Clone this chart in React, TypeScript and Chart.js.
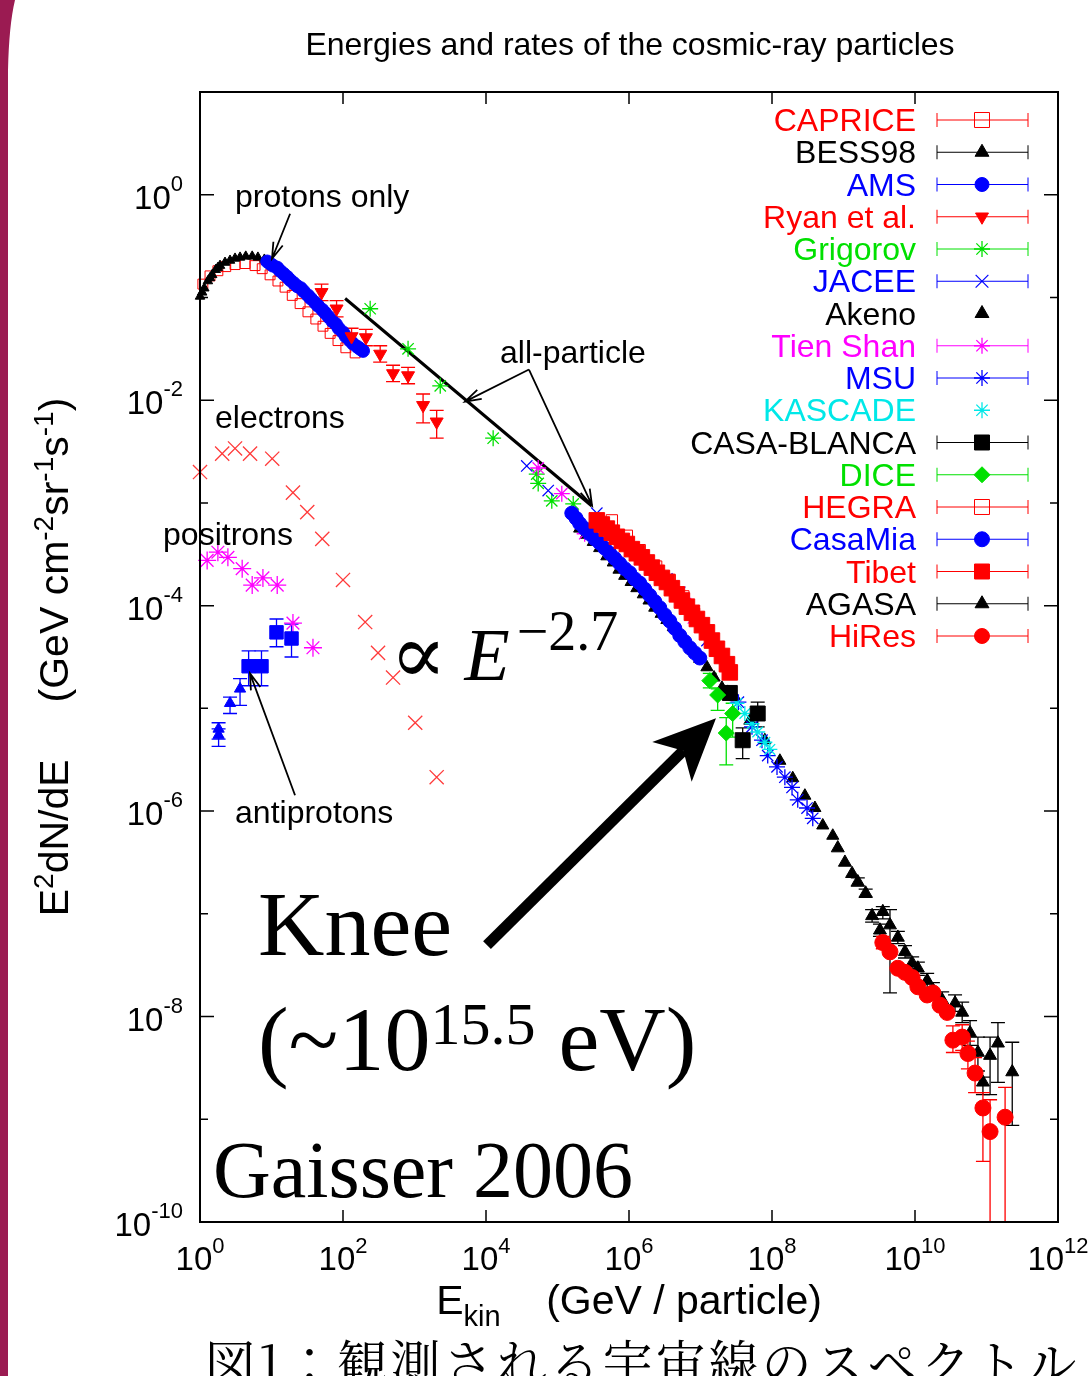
import React, { useEffect, useRef } from 'react';
import { Chart, registerables } from 'chart.js';
import { drawPoint } from 'chart.js/helpers';

Chart.register(...registerables);

// Each point: [log10 E_kin (GeV), log10 E^2dN/dE, (log10 lower), (log10 upper)]
const caprice = [[0.04,-0.87],[0.14,-0.79],[0.25,-0.74],[0.36,-0.70],[0.49,-0.68],[0.63,-0.67],[0.77,-0.69],[0.87,-0.72],[0.98,-0.78],[1.09,-0.84],[1.19,-0.90],[1.29,-0.98],[1.40,-1.06],[1.51,-1.14],[1.62,-1.21],[1.72,-1.28],[1.82,-1.35],[1.93,-1.42],[2.04,-1.49],[2.17,-1.54]];
const bess98 = [[0.00,-0.99],[0.03,-0.95],[0.06,-0.91],[0.11,-0.84],[0.14,-0.81],[0.17,-0.78],[0.22,-0.73],[0.25,-0.71],[0.28,-0.69],[0.35,-0.66],[0.42,-0.64],[0.49,-0.62],[0.56,-0.61],[0.64,-0.60],[0.73,-0.60],[0.81,-0.61],[0.90,-0.63],[0.95,-0.65]];
const ams = [[0.94,-0.65],[0.98,-0.67],[1.02,-0.69],[1.08,-0.71],[1.12,-0.74],[1.17,-0.77],[1.22,-0.80],[1.26,-0.83],[1.31,-0.86],[1.36,-0.89],[1.41,-0.91],[1.45,-0.94],[1.51,-0.98],[1.55,-1.01],[1.61,-1.05],[1.65,-1.08],[1.71,-1.12],[1.75,-1.15],[1.80,-1.19],[1.85,-1.23],[1.90,-1.26],[1.94,-1.30],[2.00,-1.34],[2.04,-1.38],[2.10,-1.42],[2.14,-1.45],[2.20,-1.48],[2.24,-1.50],[2.28,-1.52]];
const ryan = [[1.70,-0.95,-1.03,-0.87],[1.91,-1.11,-1.19,-1.03],[2.12,-1.38,-1.46,-1.30],[2.32,-1.39,-1.47,-1.31],[2.52,-1.55,-1.63,-1.47],[2.70,-1.74,-1.82,-1.66],[2.91,-1.76,-1.84,-1.68],[3.12,-2.05,-2.22,-1.94],[3.31,-2.21,-2.37,-2.10]];
const grigorov = [[2.38,-1.11],[2.91,-1.50],[3.36,-1.86],[4.10,-2.37],[4.71,-2.72],[4.73,-2.81],[4.92,-2.98],[5.22,-3.01]];
const jacee = [[4.57,-2.64],[4.87,-2.88],[5.55,-3.10],[6.53,-3.74],[6.71,-3.87],[6.90,-4.05],[7.09,-4.34]];
const akeno = [[5.31,-3.25],[5.40,-3.31],[5.50,-3.38],[5.59,-3.44],[5.69,-3.52],[5.78,-3.58],[5.86,-3.65],[5.94,-3.71],[6.03,-3.77],[6.11,-3.83],[6.20,-3.89],[6.28,-3.95],[6.36,-4.02],[6.45,-4.08],[6.53,-4.14],[6.62,-4.21],[6.71,-4.28],[6.80,-4.36],[6.90,-4.44],[6.99,-4.52],[7.09,-4.60],[7.19,-4.70],[7.30,-4.80],[7.38,-4.84],[7.48,-4.89],[7.69,-5.12],[7.90,-5.31],[8.11,-5.51],[8.29,-5.68],[8.46,-5.85],[8.60,-5.97],[8.71,-6.14],[8.85,-6.24]];
const tienShan = [[4.73,-2.66],[5.06,-2.91],[5.38,-3.30],[6.76,-3.93],[6.90,-4.12]];
const msu = [[7.53,-4.94],[7.72,-5.18],[7.86,-5.31],[7.94,-5.46],[8.07,-5.57],[8.18,-5.67],[8.28,-5.77],[8.36,-5.89],[8.49,-5.97],[8.57,-6.07]];
const kascade = [[7.51,-4.95],[7.62,-5.05],[7.72,-5.15],[7.80,-5.23],[7.90,-5.33],[7.97,-5.40]];
const casaBlanca = [[7.41,-4.85,-4.88,-4.82],[7.59,-5.31,-5.49,-5.19],[7.80,-5.05,-5.18,-4.94]];
const dice = [[7.13,-4.73,-4.80,-4.66],[7.24,-4.87,-5.02,-4.81],[7.45,-5.05,-5.28,-4.95],[7.36,-5.24,-5.55,-5.09]];
const hegra = [[5.76,-3.17],[5.97,-3.32],[6.15,-3.46],[6.38,-3.62],[6.57,-3.75],[6.76,-3.91],[6.91,-4.08]];
const casaMia = [[5.20,-3.10],[5.26,-3.15],[5.31,-3.20],[5.38,-3.25],[5.45,-3.30],[5.52,-3.35],[5.59,-3.39],[5.66,-3.44],[5.73,-3.49],[5.80,-3.54],[5.87,-3.59],[5.94,-3.64],[6.01,-3.68],[6.08,-3.74],[6.15,-3.78],[6.22,-3.84],[6.29,-3.90],[6.36,-3.96],[6.43,-4.02],[6.50,-4.09],[6.57,-4.15],[6.64,-4.22],[6.71,-4.29],[6.78,-4.35],[6.85,-4.41],[6.92,-4.46],[6.99,-4.51]];
const tibet = [[5.55,-3.17],[5.62,-3.21],[5.69,-3.25],[5.76,-3.29],[5.83,-3.33],[5.90,-3.37],[5.97,-3.40],[6.04,-3.45],[6.11,-3.49],[6.18,-3.53],[6.25,-3.58],[6.32,-3.63],[6.39,-3.68],[6.46,-3.73],[6.53,-3.77],[6.60,-3.83],[6.67,-3.89],[6.74,-3.95],[6.81,-4.01],[6.88,-4.07],[6.95,-4.13],[7.02,-4.19],[7.09,-4.26],[7.16,-4.34],[7.23,-4.42],[7.30,-4.49],[7.37,-4.57],[7.41,-4.65]];
const agasa = [[8.92,-6.36],[9.02,-6.50],[9.12,-6.61],[9.20,-6.69,-6.73,-6.65],[9.31,-6.80,-6.84,-6.76],[9.40,-7.02,-7.08,-6.96],[9.51,-7.16,-7.22,-7.10],[9.55,-6.98,-7.05,-6.93],[9.65,-7.11,-7.77,-6.96],[9.76,-7.23,-7.29,-7.17],[9.86,-7.37,-7.43,-7.31],[9.96,-7.48,-7.54,-7.42],[10.04,-7.53,-7.60,-7.47],[10.17,-7.65,-7.72,-7.58],[10.25,-7.74,-7.81,-7.67],[10.38,-7.84,-7.92,-7.76],[10.56,-7.87,-7.95,-7.79],[10.66,-7.96,-8.06,-7.86],[10.77,-8.16,-8.28,-8.04],[10.88,-8.35,-8.53,-8.20],[10.95,-8.64,-8.76,-8.59],[11.05,-8.38,-8.76,-8.20],[11.16,-8.26,-8.64,-8.06],[11.36,-8.54,-9.06,-8.25]];
const hiRes = [[9.55,-7.28,-7.34,-7.22],[9.65,-7.37],[9.76,-7.53],[9.86,-7.57],[9.96,-7.62],[10.04,-7.71],[10.17,-7.79],[10.25,-7.77],[10.35,-7.89],[10.45,-7.96],[10.53,-8.23,-8.35,-8.09],[10.66,-8.20,-8.33,-8.08],[10.74,-8.36,-8.51,-8.24],[10.84,-8.55,-8.74,-8.40],[10.95,-8.89,-9.41,-8.74],[11.05,-9.12,-11.0,-8.81],[11.26,-8.98,-11.0,-8.69]];
const electrons = [[0.00,-2.70],[0.31,-2.52],[0.49,-2.47],[0.70,-2.52],[1.01,-2.57],[1.30,-2.90],[1.50,-3.09],[1.71,-3.35],[2.00,-3.75],[2.31,-4.16],[2.49,-4.46],[2.70,-4.70],[3.01,-5.14],[3.31,-5.67]];
const positrons = [[0.10,-3.56],[0.25,-3.48],[0.39,-3.53],[0.59,-3.64],[0.73,-3.80],[0.88,-3.73],[1.08,-3.80],[1.30,-4.17],[1.58,-4.41]];
const antiprotonsLow = [[0.26,-5.20,-5.30,-5.14],[0.26,-5.26,-5.37,-5.20],[0.42,-4.95,-5.05,-4.89],[0.56,-4.81,-4.97,-4.71]];
const antiprotonsHigh = [[0.68,-4.59,-4.78,-4.44],[0.86,-4.59,-4.78,-4.44],[1.07,-4.26,-4.40,-4.13],[1.28,-4.32,-4.50,-4.18]];
const allParticle = [[2.03,-1.01],[5.48,-3.03]];

const xLabelDecades = [0, 2, 4, 6, 8, 10, 12];
const yLabelDecades = [0, -2, -4, -6, -8, -10];
const yTickDecades = [0, -1, -2, -3, -4, -5, -6, -7, -8, -9];

const RED = '#ff0000';
const BLACK = '#000000';
const BLUE = '#0000ff';
const GREEN = '#00e000';
const MAGENTA = '#ff00ff';
const CYAN = '#00e8e8';

type Series = {
  label: string; data: number[][]; color: string; style: string; r: number; lr: number;
  fill: boolean; rot?: number; bw?: number; legend: boolean; line: boolean;
};

const series: Series[] = [
  { label: 'CAPRICE', data: caprice, color: RED, style: 'rect', r: 7, lr: 10.6, fill: false, bw: 1, legend: true, line: true },
  { label: 'BESS98', data: bess98, color: BLACK, style: 'triangle', r: 5.5, lr: 8, fill: true, legend: true, line: true },
  { label: 'AMS', data: ams, color: BLUE, style: 'circle', r: 6.5, lr: 7, fill: true, legend: true, line: true },
  { label: 'Ryan et al.', data: ryan, color: RED, style: 'triangle', rot: 180, r: 7.5, lr: 7.5, fill: true, legend: true, line: true },
  { label: 'Grigorov', data: grigorov, color: GREEN, style: 'star', r: 8, lr: 8, fill: false, bw: 1.3, legend: true, line: true },
  { label: 'JACEE', data: jacee, color: BLUE, style: 'crossRot', r: 8, lr: 9, fill: false, bw: 1.2, legend: true, line: true },
  { label: 'Akeno', data: akeno, color: BLACK, style: 'triangle', r: 7, lr: 8, fill: true, legend: true, line: false },
  { label: 'Tien Shan', data: tienShan, color: MAGENTA, style: 'star', r: 8, lr: 8, fill: false, bw: 1.3, legend: true, line: true },
  { label: 'MSU', data: msu, color: BLUE, style: 'star', r: 8, lr: 8, fill: false, bw: 1.3, legend: true, line: true },
  { label: 'KASCADE', data: kascade, color: CYAN, style: 'star', r: 7.5, lr: 8, fill: false, bw: 1.3, legend: true, line: false },
  { label: 'CASA-BLANCA', data: casaBlanca, color: BLACK, style: 'rect', r: 10.6, lr: 10.6, fill: true, legend: true, line: true },
  { label: 'DICE', data: dice, color: GREEN, style: 'rectRot', r: 8, lr: 8, fill: true, legend: true, line: true },
  { label: 'HEGRA', data: hegra, color: RED, style: 'rect', r: 8, lr: 10.6, fill: false, bw: 1, legend: true, line: true },
  { label: 'CasaMia', data: casaMia, color: BLUE, style: 'circle', r: 7, lr: 7.5, fill: true, legend: true, line: true },
  { label: 'Tibet', data: tibet, color: RED, style: 'rect', r: 11, lr: 10.6, fill: true, legend: true, line: true },
  { label: 'AGASA', data: agasa, color: BLACK, style: 'triangle', r: 7.5, lr: 8, fill: true, legend: true, line: true },
  { label: 'HiRes', data: hiRes, color: RED, style: 'circle', r: 8, lr: 7.5, fill: true, legend: true, line: true },
  { label: 'electrons', data: electrons, color: '#ff3a3a', style: 'crossRot', r: 10, lr: 10, fill: false, bw: 1.3, legend: false, line: false },
  { label: 'positrons', data: positrons, color: MAGENTA, style: 'star', r: 9, lr: 9, fill: false, bw: 1.3, legend: false, line: false },
  { label: 'antiprotons (low)', data: antiprotonsLow, color: BLUE, style: 'triangle', r: 6.5, lr: 6.5, fill: true, legend: false, line: false },
  { label: 'antiprotons (high)', data: antiprotonsHigh, color: BLUE, style: 'rect', r: 9.5, lr: 9.5, fill: true, legend: false, line: false },
];

const SANS = '"Liberation Sans", Arial, Helvetica, sans-serif';
const SERIF = '"Liberation Serif", "Times New Roman", "DejaVu Serif", serif';

// annotation anchors in log10 data coordinates
const labels = [
  { text: 'protons only', lx: 0.49, ly: -0.117 },
  { text: 'electrons', lx: 0.21, ly: -2.267 },
  { text: 'positrons', lx: -0.517, ly: -3.414 },
  { text: 'antiprotons', lx: 0.49, ly: -6.119 },
  { text: 'all-particle', lx: 4.196, ly: -1.634 },
];
const thinArrows = [
  { from: [1.26, -0.185], to: [1.007, -0.623] },
  { from: [4.601, -1.702], to: [3.706, -2.014] },
  { from: [4.601, -1.702], to: [5.483, -3.025] },
  { from: [1.329, -5.846], to: [0.699, -4.66] },
];
const kneeArrow = { from: [4.014, -7.305], to: [7.217, -5.097] };

type Run = { t: string; font: string; dy?: number };
function runsWidth(ctx: CanvasRenderingContext2D, runs: Run[]) {
  let w = 0;
  for (const r of runs) { ctx.font = r.font; w += ctx.measureText(r.t).width; }
  return w;
}
function drawRuns(ctx: CanvasRenderingContext2D, runs: Run[], x: number, y: number) {
  let cx = x;
  for (const r of runs) {
    ctx.font = r.font;
    ctx.fillText(r.t, cx, y + (r.dy || 0));
    cx += ctx.measureText(r.t).width;
  }
  return cx;
}

const errorBars = {
  id: 'errorBars',
  beforeDatasetsDraw(chart: any) {
    const { ctx, chartArea: a, scales } = chart;
    const xs = scales.x, ys = scales.y;
    ctx.save();
    ctx.beginPath();
    ctx.rect(a.left, a.top, a.right - a.left, a.bottom - a.top);
    ctx.clip();
    chart.data.datasets.forEach((ds: any) => {
      if (!ds.errColor) return;
      ctx.strokeStyle = ds.errColor;
      ctx.lineWidth = 1.3;
      ds.data.forEach((p: any) => {
        if (p.lo == null || p.hi == null) return;
        const px = xs.getPixelForValue(p.x);
        const y1 = ys.getPixelForValue(p.lo);
        const y2 = ys.getPixelForValue(p.hi);
        const c = 7;
        ctx.beginPath();
        ctx.moveTo(px, y1); ctx.lineTo(px, y2);
        ctx.moveTo(px - c, y1); ctx.lineTo(px + c, y1);
        ctx.moveTo(px - c, y2); ctx.lineTo(px + c, y2);
        ctx.stroke();
      });
    });
    ctx.restore();
  },
};

const decorations = {
  id: 'decorations',
  afterDraw(chart: any) {
    const { ctx, chartArea: a, scales } = chart;
    const xs = scales.x, ys = scales.y;
    const X = (l: number) => xs.getPixelForValue(Math.pow(10, l));
    const Y = (l: number) => ys.getPixelForValue(Math.pow(10, l));
    ctx.save();
    ctx.fillStyle = '#000';
    ctx.strokeStyle = '#000';
    ctx.textBaseline = 'alphabetic';
    ctx.textAlign = 'left';

    // frame
    ctx.lineWidth = 2;
    ctx.strokeRect(a.left, a.top, a.right - a.left, a.bottom - a.top);
    // ticks
    ctx.lineWidth = 1.5;
    ctx.beginPath();
    yTickDecades.forEach((d) => {
      const y = Y(d);
      const len = d % 2 === 0 ? 14 : 8;
      ctx.moveTo(a.left, y); ctx.lineTo(a.left + len, y);
      ctx.moveTo(a.right, y); ctx.lineTo(a.right - len, y);
    });
    xLabelDecades.forEach((d) => {
      const x = X(d);
      ctx.moveTo(x, a.bottom); ctx.lineTo(x, a.bottom - 12);
      ctx.moveTo(x, a.top); ctx.lineTo(x, a.top + 12);
    });
    ctx.stroke();

    // tick labels
    const big = `33px ${SANS}`;
    const small = `22px ${SANS}`;
    yLabelDecades.forEach((d) => {
      const runs: Run[] = [{ t: '10', font: big }, { t: String(d), font: small, dy: -18 }];
      const w = runsWidth(ctx, runs);
      drawRuns(ctx, runs, a.left - 17 - w, Y(d) + 14);
    });
    xLabelDecades.forEach((d) => {
      const runs: Run[] = [{ t: '10', font: big }, { t: String(d), font: small, dy: -17 }];
      const w = runsWidth(ctx, runs);
      drawRuns(ctx, runs, X(d) - w / 2, a.bottom + 48);
    });

    // title
    ctx.font = `32px ${SANS}`;
    ctx.textAlign = 'center';
    ctx.fillText('Energies and rates of the cosmic-ray particles', (a.left + a.right) / 2 + 1, 55);
    ctx.textAlign = 'left';

    // x axis title
    const f41 = `41px ${SANS}`;
    const xt: Run[] = [
      { t: 'E', font: f41 }, { t: 'kin', font: `29px ${SANS}`, dy: 12 },
      { t: '    (GeV / particle)', font: f41 },
    ];
    const xw = runsWidth(ctx, xt);
    drawRuns(ctx, xt, (a.left + a.right) / 2 - xw / 2, a.bottom + 92);

    // y axis title
    const sup = `28px ${SANS}`;
    const yt: Run[] = [
      { t: 'E', font: f41 }, { t: '2', font: sup, dy: -15 }, { t: 'dN/dE', font: f41 },
      { t: '     (GeV cm', font: f41 }, { t: '-2', font: sup, dy: -15 }, { t: 'sr', font: f41 },
      { t: '-1', font: sup, dy: -15 }, { t: 's', font: f41 }, { t: '-1', font: sup, dy: -15 },
      { t: ')', font: f41 },
    ];
    const yw = runsWidth(ctx, yt);
    ctx.save();
    ctx.translate(68, 657);
    ctx.rotate(-Math.PI / 2);
    drawRuns(ctx, yt, -yw / 2, 0);
    ctx.restore();

    // legend
    const legendItems = chart.data.datasets.filter((d: any) => d.legendItem);
    legendItems.forEach((ds: any, i: number) => {
      const y = a.top + 28 + i * 32.25;
      ctx.font = `32px ${SANS}`;
      ctx.textAlign = 'right';
      ctx.fillStyle = ds.legendColor;
      ctx.fillText(ds.label, a.right - 142, y + 11);
      ctx.textAlign = 'left';
      const cx = a.right - 76;
      if (ds.legendLine) {
        ctx.strokeStyle = ds.legendColor;
        ctx.lineWidth = 1;
        ctx.beginPath();
        ctx.moveTo(a.right - 121, y); ctx.lineTo(a.right - 30, y);
        ctx.moveTo(a.right - 121, y - 7); ctx.lineTo(a.right - 121, y + 7);
        ctx.moveTo(a.right - 30, y - 7); ctx.lineTo(a.right - 30, y + 7);
        ctx.stroke();
      }
      ctx.fillStyle = ds.backgroundColor;
      ctx.strokeStyle = ds.borderColor;
      ctx.lineWidth = ds.pointBorderWidth;
      drawPoint(ctx, { pointStyle: ds.pointStyle, rotation: ds.pointRotation || 0, radius: ds.legendRadius, borderWidth: ds.pointBorderWidth } as any, cx, y);
    });
    ctx.fillStyle = '#000';
    ctx.strokeStyle = '#000';

    // small labels
    ctx.font = `32px ${SANS}`;
    labels.forEach((l) => ctx.fillText(l.text, X(l.lx), Y(l.ly)));

    // thin arrows
    ctx.lineWidth = 1.8;
    thinArrows.forEach((ar) => {
      const x1 = X(ar.from[0]), y1 = Y(ar.from[1]), x2 = X(ar.to[0]), y2 = Y(ar.to[1]);
      const ang = Math.atan2(y2 - y1, x2 - x1);
      const len = 17, h = 0.3;
      ctx.beginPath();
      ctx.moveTo(x1, y1); ctx.lineTo(x2, y2);
      ctx.moveTo(x2 - len * Math.cos(ang - h), y2 - len * Math.sin(ang - h));
      ctx.lineTo(x2, y2);
      ctx.lineTo(x2 - len * Math.cos(ang + h), y2 - len * Math.sin(ang + h));
      ctx.stroke();
    });

    // big knee arrow
    {
      const x1 = X(kneeArrow.from[0]), y1 = Y(kneeArrow.from[1]);
      const x2 = X(kneeArrow.to[0]), y2 = Y(kneeArrow.to[1]);
      const ang = Math.atan2(y2 - y1, x2 - x1);
      const c = Math.cos(ang), s = Math.sin(ang);
      const L = 62, W = 28, N = 46;
      ctx.lineWidth = 11;
      ctx.lineCap = 'butt';
      ctx.beginPath();
      ctx.moveTo(x1, y1); ctx.lineTo(x2 - N * c, y2 - N * s);
      ctx.stroke();
      const bx = x2 - L * c, by = y2 - L * s;
      ctx.beginPath();
      ctx.moveTo(x2, y2);
      ctx.lineTo(bx - W * s, by + W * c);
      ctx.lineTo(x2 - N * c, y2 - N * s);
      ctx.lineTo(bx + W * s, by - W * c);
      ctx.closePath();
      ctx.fill();
    }

    // big serif texts
    ctx.font = `84px ${SERIF}`;
    ctx.fillText('\u221D', X(2.657), Y(-4.75));
    ctx.font = `italic 74px ${SERIF}`;
    ctx.fillText('E', X(3.70), Y(-4.728));
    ctx.font = `56px ${SERIF}`;
    ctx.fillText('\u22122.7', X(4.43), Y(-4.436));

    ctx.font = `92px ${SERIF}`;
    ctx.fillText('Knee', X(0.811), Y(-7.403));
    const kx = X(0.811), ky = Y(-8.521);
    drawRuns(ctx, [
      { t: '(~10', font: `92px ${SERIF}` },
      { t: '15.5', font: `60px ${SERIF}`, dy: -26 },
      { t: ' eV)', font: `92px ${SERIF}` },
    ], kx, ky);
    ctx.font = `80px ${SERIF}`;
    ctx.fillText('Gaisser 2006', X(0.182), Y(-9.757));

    // caption below figure
    ctx.font = `50px "Noto Serif CJK JP", "Noto Sans CJK JP", serif`;
    (ctx as any).letterSpacing = '3px';
    ctx.fillText('図1：観測される宇宙線のスペクトル', 205, 1382);
    (ctx as any).letterSpacing = '0px';

    // slide border stripe on the left
    ctx.fillStyle = '#9b1b52';
    ctx.beginPath();
    ctx.moveTo(0, 0);
    ctx.lineTo(15, 0);
    ctx.quadraticCurveTo(9, 25, 8, 70);
    ctx.lineTo(8, 1376);
    ctx.lineTo(0, 1376);
    ctx.closePath();
    ctx.fill();
    ctx.restore();
  },
};

export default function App() {
  const ref = useRef<HTMLCanvasElement | null>(null);
  useEffect(() => {
    if (!ref.current) return;
    const toPts = (arr: number[][]) => arr.map((p) => ({
      x: Math.pow(10, p[0]),
      y: Math.pow(10, p[1]),
      lo: p.length > 2 ? Math.pow(10, p[2]) : null,
      hi: p.length > 3 ? Math.pow(10, p[3]) : null,
    }));
    const datasets: any[] = series.map((s, i) => ({
      label: s.label,
      data: toPts(s.data),
      showLine: false,
      pointStyle: s.style,
      pointRadius: s.r,
      pointRotation: s.rot || 0,
      pointBorderWidth: s.bw ?? 1,
      borderColor: s.color,
      backgroundColor: s.fill ? s.color : 'rgba(0,0,0,0)',
      order: -i,
      clip: false,
      errColor: s.color,
      legendItem: s.legend,
      legendLine: s.line,
      legendColor: s.color,
      legendRadius: s.lr,
    }));
    datasets.push({
      type: 'line',
      label: 'all-particle',
      data: toPts(allParticle),
      showLine: true,
      borderColor: '#000',
      borderWidth: 3,
      pointRadius: 0,
      order: 100,
      clip: false,
    });
    const chart = new Chart(ref.current, {
      type: 'scatter',
      data: { datasets },
      options: {
        responsive: false,
        animation: false,
        devicePixelRatio: 1,
        events: [],
        layout: { padding: { top: 92, right: 30, left: 0, bottom: 0 } },
        plugins: { legend: { display: false }, title: { display: false }, tooltip: { enabled: false } },
        scales: {
          x: {
            type: 'logarithmic', min: 1, max: 1e12,
            grid: { display: false }, ticks: { display: false }, border: { display: false },
            afterFit: (s: any) => { s.height = 154; },
          },
          y: {
            type: 'logarithmic', min: 1e-10, max: 10,
            grid: { display: false }, ticks: { display: false }, border: { display: false },
            afterFit: (s: any) => { s.width = 200; },
          },
        },
      } as any,
      plugins: [errorBars, decorations],
    });
    return () => chart.destroy();
  }, []);
  return (
    <div style={{ position: 'absolute', left: 0, top: 0, width: 1088, height: 1376, background: '#fff' }}>
      <canvas ref={ref} width={1088} height={1376} style={{ display: 'block', width: 1088, height: 1376 }} />
    </div>
  );
}
